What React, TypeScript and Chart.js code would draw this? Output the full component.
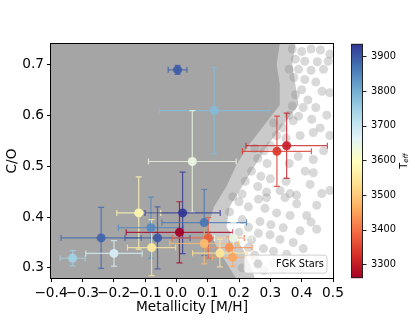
import React, { useEffect, useRef } from 'react';
import { Chart, registerables } from 'chart.js';

Chart.register(...registerables);

// ---------- data ----------
const xTicks = [-0.4, -0.3, -0.2, -0.1, 0.0, 0.1, 0.2, 0.3, 0.4, 0.5];
const yTicks = [0.3, 0.4, 0.5, 0.6, 0.7];
const cbarTicks = [3300, 3400, 3500, 3600, 3700, 3800, 3900];
const xLabel = 'Metallicity [M/H]';
const yLabel = 'C/O';
const cbarLabelMain = 'T';
const cbarLabelSub = 'eff';
const legendLabel = 'FGK Stars';

const xMin = -0.4;
const xMax = 0.5;
const yMin = 0.28;
const yMax = 0.74;
const teffMin = 3260;
const teffMax = 3936;

// M dwarf sample (coloured by Teff)
const mdwarfMH = [0.004, 0.121, 0.051, 0.352, 0.321, -0.24, -0.331, -0.199, -0.12, -0.081, -0.06, -0.079, 0.02, 0.01, 0.089, 0.102, 0.089, 0.182, 0.169, 0.139, 0.18];
const mdwarfCO = [0.689, 0.609, 0.509, 0.54, 0.529, 0.359, 0.319, 0.3285, 0.408, 0.379, 0.359, 0.34, 0.408, 0.37, 0.389, 0.359, 0.348, 0.359, 0.34, 0.329, 0.321];
const mdwarfMHErr = [0.03, 0.175, 0.14, 0.13, 0.11, 0.128, 0.04, 0.09, 0.07, 0.104, 0.104, 0.077, 0.12, 0.17, 0.135, 0.115, 0.11, 0.06, 0.073, 0.087, 0.065];
const mdwarfCOErr = [0.009, 0.085, 0.1, 0.064, 0.069, 0.06, 0.015, 0.025, 0.071, 0.06, 0.061, 0.055, 0.08, 0.06, 0.065, 0.04, 0.04, 0.03, 0.021, 0.027, 0.018];
const mdwarfTeff = [3895, 3780, 3640, 3305, 3335, 3886, 3744, 3677, 3580, 3845, 3900, 3549, 3936, 3260, 3866, 3380, 3481, 3643, 3434, 3542, 3454];

// FGK cloud: outline of the crowded part (C/O levels and right-hand edge in [M/H])
const cloudEdgeCO = [0.74, 0.70, 0.66, 0.62, 0.58, 0.54, 0.50, 0.46, 0.42, 0.38, 0.34, 0.30, 0.28];
const cloudOuterMH = [0.38, 0.37, 0.38, 0.39, 0.34, 0.29, 0.25, 0.21, 0.17, 0.16, 0.21, 0.24, 0.25];
const cloudCoreMH = [0.33, 0.32, 0.33, 0.33, 0.28, 0.23, 0.19, 0.16, 0.12, 0.10, 0.13, 0.17, 0.19];

// FGK stars scattered outside the crowded part
const fgkMH = [0.37, 0.40, 0.43, 0.46, 0.49, 0.38, 0.41, 0.45, 0.485, 0.36, 0.39, 0.43, 0.47, 0.375, 0.41, 0.445, 0.40, 0.465, 0.49, 0.38, 0.42, 0.37, 0.405, 0.445, 0.48, 0.39, 0.36,
  0.373, 0.432, 0.459, 0.395, 0.437, 0.34, 0.31, 0.35, 0.32, 0.49,
  0.389, 0.437, 0.30, 0.28, 0.26, 0.29, 0.25, 0.47, 0.36,
  0.411, 0.437, 0.427, 0.464, 0.49, 0.288, 0.331, 0.363, 0.384, 0.24, 0.27, 0.30, 0.22, 0.26, 0.35,
  0.262, 0.288, 0.347, 0.384, 0.448, 0.283, 0.32, 0.363, 0.416, 0.20, 0.23, 0.18, 0.21, 0.17,
  0.267, 0.302, 0.341, 0.395, 0.448, 0.262, 0.299, 0.331, 0.373, 0.23, 0.21, 0.20, 0.24, 0.43,
  0.405, 0.278, 0.31, 0.352, 0.31, 0.341, 0.395, 0.25, 0.23, 0.26, 0.28, 0.45, 0.21];
const fgkCO = [0.73, 0.725, 0.73, 0.728, 0.72, 0.71, 0.706, 0.705, 0.706, 0.69, 0.69, 0.688, 0.69, 0.674, 0.67, 0.665, 0.65, 0.647, 0.644, 0.64, 0.63, 0.618, 0.615, 0.615, 0.60, 0.598, 0.60,
  0.589, 0.592, 0.575, 0.56, 0.566, 0.575, 0.585, 0.555, 0.56, 0.56,
  0.519, 0.513, 0.54, 0.53, 0.515, 0.505, 0.535, 0.53, 0.505,
  0.49, 0.487, 0.464, 0.446, 0.452, 0.449, 0.452, 0.446, 0.443, 0.49, 0.48, 0.475, 0.47, 0.46, 0.47,
  0.435, 0.438, 0.438, 0.426, 0.423, 0.417, 0.408, 0.403, 0.403, 0.43, 0.42, 0.44, 0.445, 0.41,
  0.391, 0.385, 0.379, 0.373, 0.376, 0.368, 0.365, 0.356, 0.35, 0.38, 0.395, 0.37, 0.355, 0.39,
  0.338, 0.338, 0.333, 0.327, 0.309, 0.298, 0.298, 0.325, 0.34, 0.31, 0.295, 0.31, 0.30];

// ---------- styling helpers ----------
const FONT = "'DejaVu Sans', sans-serif";
const RDYLBU = [
  [165, 0, 38], [215, 48, 39], [244, 109, 67], [253, 174, 97], [254, 224, 144],
  [255, 255, 191], [224, 243, 248], [171, 217, 233], [116, 173, 209], [69, 117, 180], [49, 54, 149],
];
function cmap(t: number, a = 1): string {
  const tt = Math.max(0, Math.min(1, t)) * 10;
  const i = Math.min(9, Math.floor(tt));
  const f = tt - i;
  const c0 = RDYLBU[i], c1 = RDYLBU[i + 1];
  const c = c0.map((v, k) => Math.round(v + (c1[k] - v) * f));
  return `rgba(${c[0]},${c[1]},${c[2]},${a})`;
}
const teffNorm = (t: number) => (t - teffMin) / (teffMax - teffMin);
const fmt = (v: number) => (v < -1e-9 ? '\u2212' : '') + Math.abs(v).toFixed(1);

function polygon(edgeMH: number[]) {
  const pts = cloudEdgeCO.map((co, i) => ({ x: edgeMH[i], y: co }));
  return [{ x: xMin - 0.05, y: yMax + 0.05 }, { x: edgeMH[0], y: yMax + 0.05 }, ...pts, { x: edgeMH[edgeMH.length - 1], y: yMin - 0.05 }, { x: xMin - 0.05, y: yMin - 0.05 }];
}

const MDWARF_INDEX = 3;

const errorBarPlugin = {
  id: 'errorBars',
  beforeDatasetDraw(chart: any, args: any) {
    if (args.index !== MDWARF_INDEX) return;
    const { ctx, chartArea, scales } = chart;
    const xs = scales.x, ys = scales.y;
    ctx.save();
    ctx.beginPath();
    ctx.rect(chartArea.left, chartArea.top, chartArea.right - chartArea.left, chartArea.bottom - chartArea.top);
    ctx.clip();
    ctx.lineWidth = 1.2;
    const cap = 3;
    mdwarfMH.forEach((mh, i) => {
      const co = mdwarfCO[i];
      ctx.strokeStyle = cmap(teffNorm(mdwarfTeff[i]), 0.8);
      const px = xs.getPixelForValue(mh);
      const py = ys.getPixelForValue(co);
      const x0 = xs.getPixelForValue(mh - mdwarfMHErr[i]);
      const x1 = xs.getPixelForValue(mh + mdwarfMHErr[i]);
      const y0 = ys.getPixelForValue(co - mdwarfCOErr[i]);
      const y1 = ys.getPixelForValue(co + mdwarfCOErr[i]);
      ctx.beginPath();
      ctx.moveTo(x0, py); ctx.lineTo(x1, py);
      ctx.moveTo(px, y0); ctx.lineTo(px, y1);
      ctx.moveTo(x0, py - cap); ctx.lineTo(x0, py + cap);
      ctx.moveTo(x1, py - cap); ctx.lineTo(x1, py + cap);
      ctx.moveTo(px - cap, y0); ctx.lineTo(px + cap, y0);
      ctx.moveTo(px - cap, y1); ctx.lineTo(px + cap, y1);
      ctx.stroke();
    });
    ctx.restore();
  },
};

const decorPlugin = {
  id: 'decor',
  afterDraw(chart: any) {
    const { ctx, chartArea } = chart;
    const { left, right, top, bottom } = chartArea;
    ctx.save();
    // legend
    const lw = 83, lh = 18;
    const lx = right - 6 - lw, ly = bottom - 5 - lh;
    const r = 3;
    ctx.beginPath();
    ctx.moveTo(lx + r, ly);
    ctx.lineTo(lx + lw - r, ly);
    ctx.quadraticCurveTo(lx + lw, ly, lx + lw, ly + r);
    ctx.lineTo(lx + lw, ly + lh - r);
    ctx.quadraticCurveTo(lx + lw, ly + lh, lx + lw - r, ly + lh);
    ctx.lineTo(lx + r, ly + lh);
    ctx.quadraticCurveTo(lx, ly + lh, lx, ly + lh - r);
    ctx.lineTo(lx, ly + r);
    ctx.quadraticCurveTo(lx, ly, lx + r, ly);
    ctx.closePath();
    ctx.fillStyle = 'rgba(255,255,255,0.8)';
    ctx.fill();
    ctx.strokeStyle = 'rgba(204,204,204,0.9)';
    ctx.lineWidth = 1;
    ctx.stroke();
    ctx.beginPath();
    ctx.arc(lx + 14, ly + lh / 2, 4.5, 0, Math.PI * 2);
    ctx.fillStyle = 'rgba(128,128,128,0.3)';
    ctx.fill();
    ctx.fillStyle = '#000';
    ctx.font = `9.8px ${FONT}`;
    ctx.textBaseline = 'middle';
    ctx.textAlign = 'left';
    ctx.fillText(legendLabel, lx + 32, ly + lh / 2 + 0.5);

    // frame
    ctx.strokeStyle = '#000';
    ctx.lineWidth = 1;
    ctx.strokeRect(Math.round(left) - 0.5, Math.round(top) - 0.5, Math.round(right - left) + 1, Math.round(bottom - top) + 1);

    // colorbar
    const cs = chart.scales.c;
    const cTop = cs.getPixelForValue(teffMax);
    const cBot = cs.getPixelForValue(teffMin);
    const cx0 = right + 18, cx1 = right + 30;
    const grad = ctx.createLinearGradient(0, cBot, 0, cTop);
    for (let k = 0; k <= 20; k++) grad.addColorStop(k / 20, cmap(k / 20));
    ctx.fillStyle = grad;
    ctx.fillRect(cx0, cTop, cx1 - cx0, cBot - cTop);
    ctx.strokeStyle = '#222';
    ctx.lineWidth = 1;
    ctx.strokeRect(cx0 + 0.5, cTop + 0.5, cx1 - cx0 - 1, cBot - cTop - 1);
    ctx.beginPath();
    cbarTicks.forEach((t) => {
      const py = Math.round(cs.getPixelForValue(t)) + 0.5;
      ctx.moveTo(cx1, py); ctx.lineTo(cx1 + 3.5, py);
    });
    ctx.stroke();
    // colorbar title
    ctx.save();
    ctx.translate(right + 71, (cTop + cBot) / 2);
    ctx.rotate(-Math.PI / 2);
    ctx.fillStyle = '#000';
    ctx.textBaseline = 'middle';
    ctx.font = `9.8px ${FONT}`;
    const wT = ctx.measureText(cbarLabelMain).width;
    ctx.font = `italic 7px ${FONT}`;
    const wS = ctx.measureText(cbarLabelSub).width;
    const start = -(wT + wS) / 2;
    ctx.font = `9.8px ${FONT}`;
    ctx.fillText(cbarLabelMain, start, 0);
    ctx.font = `italic 7px ${FONT}`;
    ctx.fillText(cbarLabelSub, start + wT, 2.5);
    ctx.restore();
    ctx.restore();
  },
};

export default function App() {
  const ref = useRef<HTMLCanvasElement | null>(null);
  useEffect(() => {
    if (!ref.current) return;
    Chart.defaults.font.family = FONT;
    Chart.defaults.color = '#000';
    const chart = new Chart(ref.current, {
      type: 'scatter',
      data: {
        datasets: [
          {
            type: 'line',
            label: 'cloud-outer',
            data: polygon(cloudOuterMH),
            backgroundColor: 'rgba(128,128,128,0.42)',
            borderWidth: 0,
            pointRadius: 0,
            tension: 0,
            fill: 'shape',
            order: 10,
          } as any,
          {
            type: 'line',
            label: 'cloud-core',
            data: polygon(cloudCoreMH),
            backgroundColor: 'rgba(128,128,128,0.5)',
            borderWidth: 0,
            pointRadius: 0,
            tension: 0,
            fill: 'shape',
            order: 9,
          } as any,
          {
            label: legendLabel,
            data: fgkMH.map((x, i) => ({ x, y: fgkCO[i] })),
            backgroundColor: 'rgba(128,128,128,0.3)',
            borderWidth: 0,
            pointRadius: 4.5,
            order: 8,
          },
          {
            label: 'M dwarfs',
            data: mdwarfMH.map((x, i) => ({ x, y: mdwarfCO[i] })),
            backgroundColor: mdwarfTeff.map((t) => cmap(teffNorm(t), 0.92)),
            borderWidth: 0,
            pointRadius: 4.5,
            order: 1,
          },
        ],
      },
      options: {
        responsive: false,
        animation: false,
        events: [],
        layout: { padding: { top: 21, left: 0, right: 0, bottom: 0 } },
        plugins: { legend: { display: false }, tooltip: { enabled: false } },
        scales: {
          x: {
            type: 'linear',
            min: xMin,
            max: xMax,
            afterBuildTicks: (s: any) => { s.ticks = xTicks.map((v) => ({ value: v })); },
            afterFit: (s: any) => { s.height = 38; },
            ticks: {
              autoSkip: false, maxRotation: 0, minRotation: 0, padding: 3,
              font: { size: 13.7, family: FONT }, color: '#000',
              callback: (v: any) => fmt(Number(v)),
            },
            grid: { display: true, drawOnChartArea: false, drawTicks: true, tickLength: 4, color: '#000' },
            border: { display: false },
            title: { display: true, text: xLabel, font: { size: 13.7, family: FONT }, color: '#000', padding: { top: 0, bottom: 0 } },
          },
          y: {
            type: 'linear',
            min: yMin,
            max: yMax,
            afterBuildTicks: (s: any) => { s.ticks = yTicks.map((v) => ({ value: v })); },
            afterFit: (s: any) => { s.width = 51; },
            ticks: {
              autoSkip: false, padding: 3,
              font: { size: 13.7, family: FONT }, color: '#000',
              callback: (v: any) => fmt(Number(v)),
            },
            grid: { display: true, drawOnChartArea: false, drawTicks: true, tickLength: 4, color: '#000' },
            border: { display: false },
            title: { display: true, text: yLabel, font: { size: 13.7, family: FONT }, color: '#000', padding: { top: 4, bottom: 0 } },
          },
          c: {
            type: 'linear',
            position: 'right',
            min: teffMin,
            max: teffMax,
            afterBuildTicks: (s: any) => { s.ticks = cbarTicks.map((v) => ({ value: v })); },
            afterFit: (s: any) => { s.width = 82; },
            ticks: {
              autoSkip: false, padding: 38, font: { size: 9.8, family: FONT }, color: '#000',
              callback: (v: any) => String(Math.round(Number(v))),
            },
            grid: { display: false, drawTicks: false, drawOnChartArea: false },
            border: { display: false },
          },
        },
      } as any,
      plugins: [errorBarPlugin, decorPlugin],
    });
    return () => chart.destroy();
  }, []);
  return (
    <div style={{ position: 'absolute', left: 0, top: 0, width: 415, height: 322, background: '#fff' }}>
      <canvas ref={ref} width={415} height={322} style={{ display: 'block' }} />
    </div>
  );
}
